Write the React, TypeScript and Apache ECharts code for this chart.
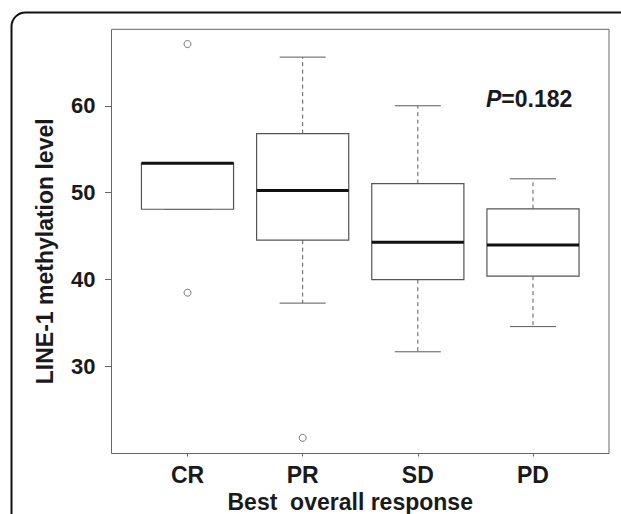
import React, { useEffect, useRef } from "react";
import * as echarts from "echarts";

// Categories and box statistics: [min whisker, Q1, median, Q3, max whisker]
const categories = ["CR", "PR", "SD", "PD"];
const whiskerLow = [48.1, 37.3, 31.7, 34.6];
const q1 = [48.1, 44.55, 40.0, 40.4];
const median = [53.4, 50.25, 44.3, 44.0];
const q3 = [53.4, 56.8, 51.05, 48.15];
const whiskerHigh = [53.4, 65.6, 60.0, 51.6];
// Outliers: [category position (1-based), value]
const outlierCat = [1, 1, 2];
const outlierVal = [67.1, 38.5, 21.8];
const yTicks = [30, 40, 50, 60];
const pText = "=0.182";

const FONT = '"Liberation Sans", Arial, Helvetica, sans-serif';

export default function App() {
  const ref = useRef<HTMLDivElement>(null);

  useEffect(() => {
    document.body.style.margin = "0";
    if (!ref.current) return;
    const chart = echarts.init(ref.current, undefined, { renderer: "svg" });

    const boxData = categories.map((_, i) => [
      i + 1,
      whiskerLow[i],
      q1[i],
      median[i],
      q3[i],
      whiskerHigh[i],
    ]);
    const outliers = outlierCat.map((c, i) => [c, outlierVal[i]]);

    const option: any = {
      animation: false,
      backgroundColor: "#ffffff",
      grid: {
        left: 111.5,
        top: 29.3,
        width: 497.5,
        height: 424.2,
        show: true,
        borderColor: "#666666",
        borderWidth: 1,
        backgroundColor: "transparent",
      },
      xAxis: {
        type: "value",
        min: 0.34,
        max: 4.66,
        axisLine: { show: false },
        splitLine: { show: false },
        axisTick: {
          show: true,
          customValues: [1, 2, 3, 4],
          length: 3,
          lineStyle: { color: "#666666", width: 1 },
        },
        axisLabel: {
          show: true,
          customValues: [1, 2, 3, 4],
          formatter: (v: number) => categories[Math.round(v) - 1] ?? "",
          margin: 10,
          color: "#1a1a1a",
          fontFamily: FONT,
          fontWeight: "bold",
          fontSize: 23,
        },
      },
      yAxis: {
        type: "value",
        min: 20,
        max: 68.8,
        axisLine: { show: false },
        splitLine: { show: false },
        axisTick: {
          show: true,
          customValues: yTicks,
          length: 6.5,
          lineStyle: { color: "#666666", width: 1 },
        },
        axisLabel: {
          show: true,
          customValues: yTicks,
          margin: 16,
          color: "#1a1a1a",
          fontFamily: FONT,
          fontWeight: "bold",
          fontSize: 22,
        },
      },
      series: [
        {
          type: "custom",
          data: boxData,
          encode: { x: 0, y: [1, 2, 3, 4, 5] },
          renderItem: (params: any, api: any) => {
            const x = api.value(0);
            const vmin = api.value(1);
            const vq1 = api.value(2);
            const vmed = api.value(3);
            const vq3 = api.value(4);
            const vmax = api.value(5);
            const half = api.size([0.8, 0])[0] / 2;
            const cap = half / 2;
            const cx = api.coord([x, vmed])[0];
            const py = (v: number) => api.coord([x, v])[1];
            const dash = { stroke: "#5a5a5a", lineWidth: 1, lineDash: [4, 3.5], fill: null };
            const solid = { stroke: "#5a5a5a", lineWidth: 1, fill: null };
            return {
              type: "group",
              children: [
                { type: "line", shape: { x1: cx, y1: py(vq3), x2: cx, y2: py(vmax) }, style: dash },
                { type: "line", shape: { x1: cx, y1: py(vq1), x2: cx, y2: py(vmin) }, style: dash },
                { type: "line", shape: { x1: cx - cap, y1: py(vmax), x2: cx + cap, y2: py(vmax) }, style: solid },
                { type: "line", shape: { x1: cx - cap, y1: py(vmin), x2: cx + cap, y2: py(vmin) }, style: solid },
                {
                  type: "rect",
                  shape: { x: cx - half, y: py(vq3), width: 2 * half, height: py(vq1) - py(vq3) },
                  style: { fill: "#ffffff", stroke: "#555555", lineWidth: 1.2 },
                },
                {
                  type: "line",
                  shape: { x1: cx - half, y1: py(vmed), x2: cx + half, y2: py(vmed) },
                  style: { stroke: "#111111", lineWidth: 3, fill: null },
                },
              ],
            };
          },
          z: 2,
        },
        {
          type: "scatter",
          data: outliers,
          symbol: "circle",
          symbolSize: 7,
          itemStyle: { color: "#ffffff", borderColor: "#555555", borderWidth: 1 },
          z: 3,
        },
      ],
      graphic: [
        {
          type: "rect",
          silent: true,
          shape: { x: 11.5, y: 12.5, width: 800, height: 700, r: 14 },
          style: { fill: "none", stroke: "#111111", lineWidth: 2 },
          z: 10,
        },
        {
          type: "text",
          silent: true,
          x: 44.7,
          y: 251.3,
          rotation: Math.PI / 2,
          style: {
            text: "LINE-1 methylation level",
            font: `bold 23px ${FONT}`,
            fill: "#1a1a1a",
            align: "center",
            verticalAlign: "middle",
          },
        },
        {
          type: "text",
          silent: true,
          x: 350.2,
          y: 501.5,
          style: {
            text: "Best\u00a0 overall response",
            font: `bold 23px ${FONT}`,
            fill: "#1a1a1a",
            align: "center",
            verticalAlign: "middle",
          },
        },
        {
          type: "text",
          silent: true,
          x: 486,
          y: 98.7,
          style: {
            text: `{i|P}{n|${pText}}`,
            verticalAlign: "middle",
            align: "left",
            rich: {
              i: { font: `italic bold 23px ${FONT}`, fill: "#1a1a1a" },
              n: { font: `bold 23px ${FONT}`, fill: "#1a1a1a" },
            },
          },
        },
      ],
    };

    chart.setOption(option);
    return () => {
      chart.dispose();
    };
  }, []);

  return <div ref={ref} style={{ width: 621, height: 514 }} />;
}
